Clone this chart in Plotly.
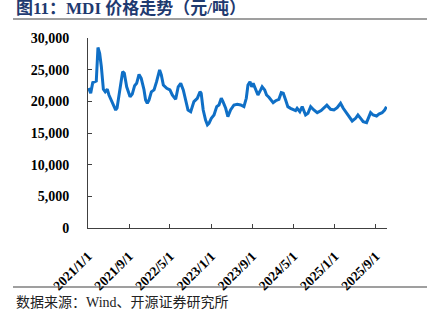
import plotly.graph_objects as go

dates = [
    "2021-01-05", "2021-01-17", "2021-01-29", "2021-02-19", "2021-03-01", "2021-03-11",
    "2021-03-21", "2021-04-02", "2021-04-13", "2021-04-25", "2021-05-05", "2021-05-25",
    "2021-06-14", "2021-06-22", "2021-07-09", "2021-07-25", "2021-08-04", "2021-08-18",
    "2021-09-07", "2021-09-20", "2021-10-04", "2021-10-16", "2021-10-30", "2021-11-12",
    "2021-11-28", "2021-12-08", "2021-12-18", "2021-12-28", "2022-01-11", "2022-01-27",
    "2022-02-11", "2022-03-01", "2022-03-11", "2022-03-23", "2022-04-12", "2022-05-01",
    "2022-05-15", "2022-06-04", "2022-06-19", "2022-07-04", "2022-07-19", "2022-08-02",
    "2022-08-16", "2022-09-01", "2022-09-20", "2022-10-10", "2022-10-26", "2022-11-02",
    "2022-11-14", "2022-11-28", "2022-12-09", "2022-12-18", "2023-01-01", "2023-01-17",
    "2023-02-02", "2023-02-15", "2023-03-01", "2023-03-11", "2023-03-27", "2023-04-09",
    "2023-04-25", "2023-05-15", "2023-06-03", "2023-06-24", "2023-07-13", "2023-07-27",
    "2023-08-06", "2023-08-18", "2023-08-28", "2023-09-06", "2023-09-20", "2023-10-04",
    "2023-10-20", "2023-10-29", "2023-11-13", "2023-11-24", "2023-12-08", "2023-12-22",
    "2024-01-02", "2024-01-17", "2024-02-05", "2024-02-19", "2024-03-02", "2024-03-16",
    "2024-03-29", "2024-04-14", "2024-04-30", "2024-05-14", "2024-05-23", "2024-06-08",
    "2024-06-22", "2024-07-12", "2024-07-26", "2024-08-11", "2024-08-30", "2024-09-19",
    "2024-10-12", "2024-10-28", "2024-11-15", "2024-12-07", "2024-12-27", "2025-01-15",
    "2025-02-04", "2025-02-20", "2025-03-06", "2025-03-25", "2025-04-14", "2025-05-04",
    "2025-05-18", "2025-06-03", "2025-06-18", "2025-07-08", "2025-07-22", "2025-08-01",
    "2025-08-16", "2025-09-05", "2025-09-19", "2025-10-08", "2025-10-23", "2025-11-03",
]

prices = [
    22100, 21270, 22950, 23200, 28500, 27600,
    25470, 21900, 21500, 21900, 21000, 19700,
    18630, 18950, 22300, 24680, 24420, 22300,
    20730, 21150, 22470, 22840, 24260, 23630,
    21900, 20200, 19700, 20200, 21500, 21800,
    23100, 24950, 24160, 22580, 22050, 21800,
    21000, 20320, 22300, 22840, 21800, 20200,
    18630, 18370, 19950, 20480, 21520, 21270,
    18630, 17050, 16300, 16530, 17320, 17840,
    19160, 19420, 20480, 19950, 18900, 17580,
    18630, 19420, 19530, 19420, 19160, 20480,
    22580, 23100, 22300, 22840, 21800, 21000,
    21800, 22300, 21800, 21000, 20640, 20200,
    19800, 20100, 20320, 21370, 21270, 20200,
    19160, 18900, 18630, 18530, 18900, 18370,
    19160, 17840, 18110, 19160, 18630, 18210,
    18530, 18900, 19400, 18740, 18630, 19000,
    19700, 18900, 18370, 17580, 16900, 17320,
    17840, 17320, 16790, 16630, 17580, 18210,
    17840, 17680, 18000, 18210, 18630, 19160,
]

tick_vals = ["2021-01-01", "2021-09-01", "2022-05-01", "2023-01-01",
             "2023-09-01", "2024-05-01", "2025-01-01", "2025-09-01"]
tick_text = ["2021/1/1", "2021/9/1", "2022/5/1", "2023/1/1",
             "2023/9/1", "2024/5/1", "2025/1/1", "2025/9/1"]
y_ticks = [0, 5000, 10000, 15000, 20000, 25000, 30000]
y_text = ["0", "5,000", "10,000", "15,000", "20,000", "25,000", "30,000"]

title_text = "图11：MDI 价格走势（元/吨）"
source_text = "数据来源：Wind、开源证券研究所"

serif = "Liberation Serif, Noto Sans CJK SC, serif"

fig = go.Figure()
fig.add_trace(go.Scatter(
    x=dates, y=prices, mode="lines",
    line=dict(color="#0F6FC6", width=3),
    hoverinfo="skip",
))

W, H = 440, 329
L, R, T, B = 88, 53, 38, 101
pw, ph = W - L - R, H - T - B

def px(xp):
    return (xp - L) / pw

def py(yp):
    return (H - B - yp) / ph

fig.update_layout(
    width=W, height=H,
    margin=dict(l=L, r=R, t=T, b=B),
    paper_bgcolor="white", plot_bgcolor="white",
    showlegend=False,
    xaxis=dict(
        type="date",
        range=["2021-01-01", "2025-11-06"],
        tickvals=tick_vals, ticktext=tick_text,
        tickangle=-45,
        ticks="inside", ticklen=4, tickcolor="#404040",
        showline=True, linecolor="#404040", linewidth=1,
        showgrid=False, zeroline=False,
        ticklabelstandoff=14,
        tickfont=dict(family=serif, size=13.5, color="black", weight="bold"),
    ),
    yaxis=dict(
        range=[0, 30000],
        tickvals=y_ticks, ticktext=y_text,
        ticks="inside", ticklen=4, tickcolor="#404040",
        showline=True, linecolor="#404040", linewidth=1,
        showgrid=False, zeroline=False,
        ticklabelstandoff=15,
        tickfont=dict(family=serif, size=14, color="black", weight="bold"),
    ),
    shapes=[
        dict(type="line", xref="paper", yref="paper",
             x0=px(13), x1=px(427), y0=py(19), y1=py(19),
             line=dict(color="#404040", width=1.2)),
        dict(type="line", xref="paper", yref="paper",
             x0=px(13), x1=px(427), y0=py(287), y1=py(287),
             line=dict(color="#404040", width=1.2)),
    ],
    annotations=[
        dict(text=title_text, xref="paper", yref="paper",
             x=px(14), y=py(9), xanchor="left", yanchor="middle",
             showarrow=False,
             font=dict(family=serif, size=17, color="#1F3A70", weight="bold")),
        dict(text=source_text, xref="paper", yref="paper",
             x=px(14), y=py(302), xanchor="left", yanchor="middle",
             showarrow=False,
             font=dict(family=serif, size=14, color="#222222")),
    ],
)

fig.write_html("out.html")
